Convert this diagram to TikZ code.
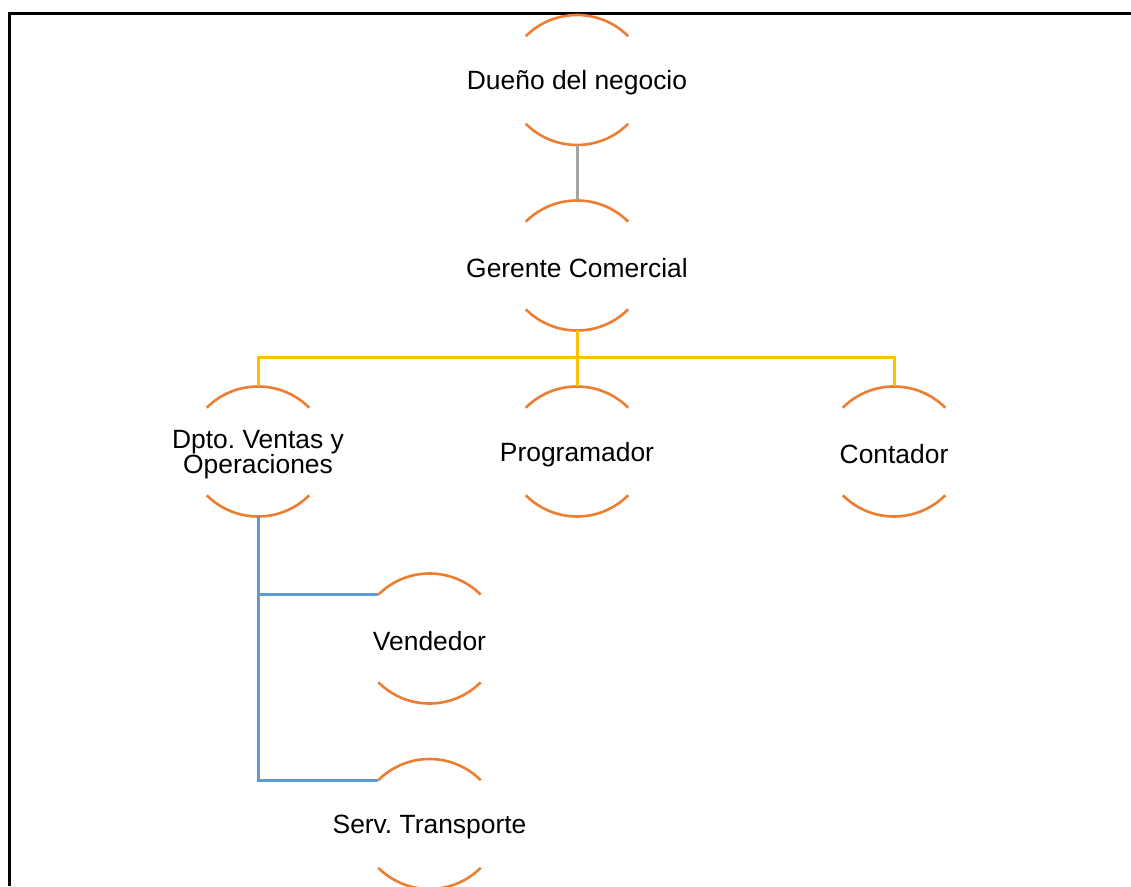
\documentclass[tikz,border=0pt]{standalone}
\usepackage{fontspec}
\setmainfont{Liberation Sans}
\frenchspacing
\definecolor{arcorange}{HTML}{ED7D31}
\definecolor{busyellow}{HTML}{FFC000}
\definecolor{busblue}{HTML}{5B9BD5}
\definecolor{busgray}{HTML}{A5A5A5}
\tikzset{
  unit/.style={rectangle, inner sep=0pt, align=center,
    font=\fontsize{26.4}{25}\selectfont},
  arcline/.style={draw=arcorange, line width=2.6pt},
  graylink/.style={draw=busgray, line width=3pt},
  yellowlink/.style={draw=busyellow, line width=3pt},
  bluelink/.style={draw=busblue, line width=3pt},
  frame/.style={draw=black, line width=3pt}
}
% arcs around (node center + 3pt up); text sits 3pt lower than the ring centre
\newcommand{\unitarcs}[1]{%
  \draw[arcline] ([shift={(-51.2pt,46.8pt)}]#1.center) arc[start angle=135, end angle=45, radius=72.4pt];
  \draw[arcline] ([shift={(-51.2pt,-40.8pt)}]#1.center) arc[start angle=225, end angle=315, radius=72.4pt];
  \coordinate (#1tl) at ([shift={(-51.2pt,46.8pt)}]#1.center);
  \coordinate (#1top) at ([yshift=68pt]#1.center);
  \coordinate (#1bot) at ([yshift=-62pt]#1.center);
}
\begin{document}
\begin{tikzpicture}[x=1pt,y=1pt]
\useasboundingbox (0,0) rectangle (1131,886);
% frame
\coordinate (fbl) at (9.5,0);
\coordinate (ftl) at (9.5,872.7);
\coordinate (ftr) at (1131,872.7);
\draw[frame] (fbl) -- (ftl) -- (ftr);
% nodes
\node[unit] (owner) at (577,803) {Dueño del negocio};
\node[unit] (gerente) at (577,617.5) {Gerente Comercial};
\node[unit] (dpto) at (258,431.5) {Dpto. Ventas y\\Operaciones};
\node[unit] (prog) at (577,431.5) {Programador};
\node[unit] (cont) at (894,431.5) {Contador};
\node[unit] (vend) at (429.5,244.5) {Vendedor};
\node[unit] (serv) at (429.5,59) {Serv. Transporte};
\unitarcs{owner}
\unitarcs{gerente}
\unitarcs{dpto}
\unitarcs{prog}
\unitarcs{cont}
\unitarcs{vend}
\unitarcs{serv}
% connectors
\draw[graylink] (ownerbot) -- (gerentetop);
\coordinate (bus) at ([yshift=-27.5pt]gerentebot);
\draw[yellowlink] (gerentebot) -- (bus);
\draw[yellowlink] (dptotop) |- (bus) -| (conttop);
\draw[yellowlink] (bus) -- (progtop);
\draw[bluelink] (dptobot) |- (vendtl);
\draw[bluelink] (dptobot) |- (servtl);
\end{tikzpicture}
\end{document}
